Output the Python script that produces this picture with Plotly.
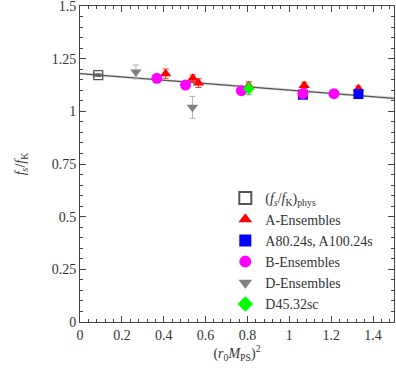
import numpy as np
import plotly.graph_objects as go

# physical point
phys_x = [0.087]
phys_y = [1.172]
phys_xerr = [0.02]
phys_yerr = [0.006]

# A-Ensembles
a_x = [0.409, 0.539, 0.566, 0.806, 1.071, 1.330]
a_y = [1.179, 1.157, 1.134, 1.120, 1.123, 1.107]
a_err = [0.022, 0.016, 0.021, 0.020, 0.015, 0.013]

# A80.24s, A100.24s
a2_x = [1.065, 1.330]
a2_y = [1.079, 1.082]
a2_err = [0.006, 0.006]

# B-Ensembles
b_x = [0.367, 0.504, 0.771, 1.065, 1.213]
b_y = [1.157, 1.125, 1.098, 1.084, 1.084]
b_err = [0.009, 0.008, 0.007, 0.007, 0.007]

# D-Ensembles
d_x = [0.267, 0.537]
d_y = [1.187, 1.019]
d_err = [0.033, 0.052]

# D45.32sc
d45_x = [0.806]
d45_y = [1.107]
d45_err = [0.028]

# linear fit
fit_a = 1.179
fit_b = -0.078
fit_band = 0.007

FONT = "Liberation Serif, Times New Roman, DejaVu Serif, serif"

fx = np.linspace(0, 1.5, 50)
fy = fit_a + fit_b * fx

fig = go.Figure()

# fit band and central line
fig.add_trace(go.Scatter(x=np.concatenate([fx, fx[::-1]]),
                         y=np.concatenate([fy + fit_band, (fy - fit_band)[::-1]]),
                         fill="toself", fillcolor="rgba(170,170,170,0.35)",
                         line=dict(width=0), hoverinfo="skip", showlegend=False))
fig.add_trace(go.Scatter(x=fx, y=fy, mode="lines", line=dict(color="#555555", width=1.3),
                         showlegend=False))

fig.add_trace(go.Scatter(
    x=phys_x, y=phys_y, mode="markers", name="(<i>f<sub>s</sub></i>/<i>f</i><sub>K</sub>)<sub>phys</sub>",
    marker=dict(symbol="square-open", size=9, color="#555555", line=dict(width=1.2)),
    error_x=dict(type="data", array=phys_xerr, color="#555555", thickness=1, width=3),
    error_y=dict(type="data", array=phys_yerr, color="#555555", thickness=1, width=3)))

fig.add_trace(go.Scatter(
    x=a_x, y=a_y, mode="markers", name="A-Ensembles",
    marker=dict(symbol="triangle-up", size=10, color="#ff0000"),
    error_y=dict(type="data", array=a_err, color="#ff3030", thickness=1, width=3)))

fig.add_trace(go.Scatter(
    x=a2_x, y=a2_y, mode="markers", name="A80.24s, A100.24s",
    marker=dict(symbol="square", size=10, color="#0000ff"),
    error_y=dict(type="data", array=a2_err, color="#3030ff", thickness=1, width=3)))

fig.add_trace(go.Scatter(
    x=b_x, y=b_y, mode="markers", name="B-Ensembles",
    marker=dict(symbol="circle", size=11, color="#ff00ff"),
    error_y=dict(type="data", array=b_err, color="#ff80ff", thickness=1, width=3)))

fig.add_trace(go.Scatter(
    x=d_x, y=d_y, mode="markers", name="D-Ensembles",
    marker=dict(symbol="triangle-down", size=10, color="#808080"),
    error_y=dict(type="data", array=d_err, color="#b0b0b0", thickness=1, width=3)))

fig.add_trace(go.Scatter(
    x=d45_x, y=d45_y, mode="markers", name="D45.32sc",
    marker=dict(symbol="diamond", size=9, color="#00ff00"),
    error_y=dict(type="data", array=d45_err, color="#30e030", thickness=1, width=3)))

axis_style = dict(showline=True, linecolor="#444444", linewidth=1, mirror="allticks",
                  ticks="inside", ticklen=6, tickcolor="#444444", showgrid=False,
                  zeroline=False, ticklabeloverflow="allow",
                  tickfont=dict(family=FONT, size=14, color="#333333"))

fig.update_xaxes(range=[-0.0001, 1.5], tickvals=[0, 0.2, 0.4, 0.6, 0.8, 1, 1.2, 1.4],
                 ticktext=["0", "0.2", "0.4", "0.6", "0.8", "1", "1.2", "1.4"],
                 minor=dict(ticks="inside", dtick=0.04, ticklen=3, tickcolor="#444444"),
                 title=dict(text="(<i>r</i><sub>0</sub><i>M</i><sub>PS</sub>)<sup>2</sup>",
                            standoff=2, font=dict(family=FONT, size=14, color="#333333")),
                 automargin=False,
                 **axis_style)
fig.update_yaxes(range=[-0.0001, 1.5001], tickvals=[0, 0.25, 0.5, 0.75, 1, 1.25, 1.5],
                 ticktext=["0", "0.25", "0.5", "0.75", "1", "1.25", "1.5"],
                 minor=dict(ticks="inside", dtick=0.05, ticklen=3, tickcolor="#444444"),
                 title=dict(text="<i>f<sub>s</sub></i>/<i>f</i><sub>K</sub>",
                            standoff=22, font=dict(family=FONT, size=14, color="#333333")),
                 automargin=False,
                 **axis_style)

fig.update_layout(
    width=396, height=369,
    margin=dict(l=80, r=2, t=6, b=47),
    plot_bgcolor="white", paper_bgcolor="white",
    font=dict(family=FONT, size=14, color="#333333"),
    legend=dict(x=0.95, y=0.005, xanchor="right", yanchor="bottom",
                bgcolor="rgba(0,0,0,0)", font=dict(family=FONT, size=14), tracegroupgap=0,
                itemsizing="constant"),
)

fig.write_html("out.html", config={"displayModeBar": False},
               post_script="document.body.style.margin='0';")
